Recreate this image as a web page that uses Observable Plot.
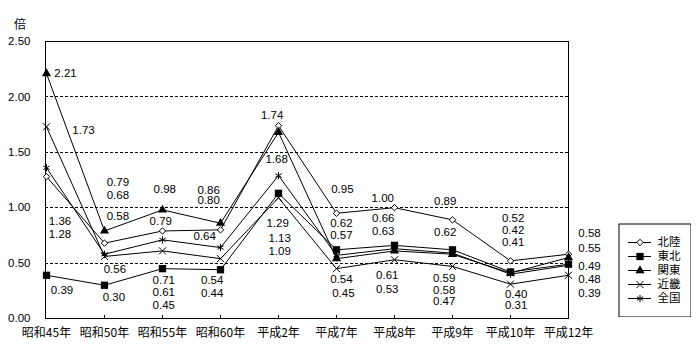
<!DOCTYPE html>
<html><head><meta charset="utf-8">
<script src="https://cdn.jsdelivr.net/npm/d3@7"></script>
<script src="https://cdn.jsdelivr.net/npm/@observablehq/plot@0.6"></script>
<style>
body{margin:0;background:#fff;}
#wrap{position:relative;width:700px;height:360px;font-family:'Noto Sans CJK JP',sans-serif;color:#000;}
#wrap svg{position:absolute;left:0;top:0;}
#unit{position:absolute;left:14px;top:16px;font-size:12px;line-height:16px;z-index:2;}
#legend{position:absolute;left:618px;top:223px;z-index:2;}
</style></head><body><div id="wrap"><div id="unit">倍</div><div id="legend"></div></div>
<script>
const categories = ["昭和45年","昭和50年","昭和55年","昭和60年","平成2年","平成7年","平成8年","平成9年","平成10年","平成12年"];
const seriesNames = ["北陸","東北","関東","近畿","全国"];
const hokuriku = [1.28, 0.68, 0.79, 0.80, 1.74, 0.95, 1.00, 0.89, 0.52, 0.58];
const tohoku   = [0.39, 0.30, 0.45, 0.44, 1.13, 0.62, 0.66, 0.62, 0.42, 0.49];
const kanto    = [2.21, 0.79, 0.98, 0.86, 1.68, 0.54, 0.61, 0.58, 0.41, 0.55];
const kinki    = [1.73, 0.56, 0.61, 0.54, 1.09, 0.45, 0.53, 0.47, 0.31, 0.39];
const zenkoku  = [1.36, 0.58, 0.71, 0.64, 1.29, 0.57, 0.63, 0.59, 0.40, 0.48];
const yTicks = [0, 0.5, 1.0, 1.5, 2.0, 2.5];
const gridValues = [0.5, 1.0, 1.5, 2.0];

// layout: label offsets (px) relative to each point, per series, per category
const labelOffsets = {
  "北陸": [[13.5,58],[13.4,-47.7],[-1.7,-9.5],[-11.8,-29.4],[-6.4,-10.2],[5.9,-23.7],[-11.7,-9.2],[-7.3,-18.4],[2.6,-42.4],[21,-20.7]],
  "東北": [[15.5,15],[9.4,12.2],[1.3,36.9],[-8.3,23.8],[1.1,45.2],[4.9,-26.3],[-11.2,-26.9],[-7.3,-17.3],[2.6,-41.5],[21,2.3]],
  "関東": [[19,0],[13.4,-48.5],[2.3,-20.4],[-11.8,-32.7],[-1.9,27.1],[4.9,20.8],[-7.2,24.6],[-8.3,36.3],[2.6,-30.6],[21,-9.1]],
  "近畿": [[37,3],[10.4,13],[1.3,41.6],[-8.3,21.8],[1.1,53.8],[6.9,24.9],[-7.2,29.7],[-8.3,35.1],[5.6,21.3],[21,18.2]],
  "全国": [[13.5,54],[13.4,-37.7],[1.3,40.7],[-15.8,-11.1],[-0.9,47.9],[4.9,-19.8],[-11.2,-17.2],[-8.3,25.4],[5.6,20.3],[21,14.2]]
};
const numFont = "'Liberation Sans', Arial, sans-serif";
const styles = {
  "北陸": {symbol: "diamond2", r: 2.9, fill: "white", stroke: "black", strokeWidth: 1},
  "東北": {symbol: "square", r: 4.1, fill: "black", stroke: "none"},
  "関東": {symbol: "triangle", r: 3.4, fill: "black", stroke: "none"},
  "近畿": {symbol: "times", r: 3.3, fill: "none", stroke: "black", strokeWidth: 1},
  "全国": {symbol: "asterisk", r: 3.4, fill: "none", stroke: "black", strokeWidth: 1}
};
const valuesBySeries = {"北陸": hokuriku, "東北": tohoku, "関東": kanto, "近畿": kinki, "全国": zenkoku};

const rows = seriesNames.map(name => categories.map((c, i) => ({series: name, cat: c, v: valuesBySeries[name][i], i})));

const marks = [
  Plot.ruleY(gridValues, {stroke: "black", strokeDasharray: "3,2", shapeRendering: "crispEdges"}),
  Plot.frame({stroke: "black", strokeWidth: 1, shapeRendering: "crispEdges"}),
  Plot.axisY(yTicks, {tickSize: 0, tickPadding: 15, tickFormat: d3.format(".2f"), fontSize: 11.5, fontFamily: numFont, label: null}),
  Plot.axisX(categories, {tickSize: 0, tickPadding: 10, fontSize: 12, label: null}),
  Plot.axisX(categories.slice(1, -1), {tickSize: -3, tickFormat: () => "", label: null, shapeRendering: "crispEdges"})
];
for (const r of rows) {
  marks.push(Plot.line(r, {x: "cat", y: "v", stroke: "black", strokeWidth: 1}));
}
for (const r of rows) {
  const s = styles[r[0].series];
  marks.push(Plot.dot(r, {x: "cat", y: "v", ...s}));
}
for (const r of rows) {
  for (const d of r) {
    const [dx, dy] = labelOffsets[d.series][d.i];
    marks.push(Plot.text([d], {x: "cat", y: "v", text: e => e.v.toFixed(2), dx, dy, fontSize: 11.5, fontFamily: numFont, fill: "black", textAnchor: "middle"}));
  }
}

const chart = Plot.plot({
  width: 700, height: 360,
  marginLeft: 45, marginRight: 132, marginTop: 41, marginBottom: 42,
  x: {type: "point", domain: categories, padding: 0, axis: null},
  y: {domain: [0, 2.5], axis: null},
  style: {fontFamily: "'Noto Sans CJK JP', sans-serif", fontSize: "12px", color: "black", background: "white"},
  marks
});
document.getElementById("wrap").prepend(chart);

const legendMarks = [
  Plot.frame({stroke: "black", inset: 0.5, strokeWidth: 1}),
  Plot.ruleY(seriesNames, {y: d => d, x1: 10, x2: 33, stroke: "black", strokeWidth: 1}),
  Plot.text(seriesNames, {y: d => d, x: 39, text: d => d, textAnchor: "start", fontSize: 11.5, fill: "black"})
];
for (const name of seriesNames) {
  legendMarks.push(Plot.dot([name], {y: d => d, x: 21.5, ...styles[name]}));
}
const legend = Plot.plot({
  width: 73, height: 94, margin: 0,
  x: {domain: [0, 73], range: [0, 73], axis: null},
  y: {type: "point", domain: seriesNames, range: [10, 84], axis: null},
  style: {fontFamily: "'Noto Sans CJK JP', sans-serif", fontSize: "12px", color: "black", background: "white"},
  marks: legendMarks
});
legend.style.position = "static";
document.getElementById("legend").appendChild(legend);
</script>
</body></html>
